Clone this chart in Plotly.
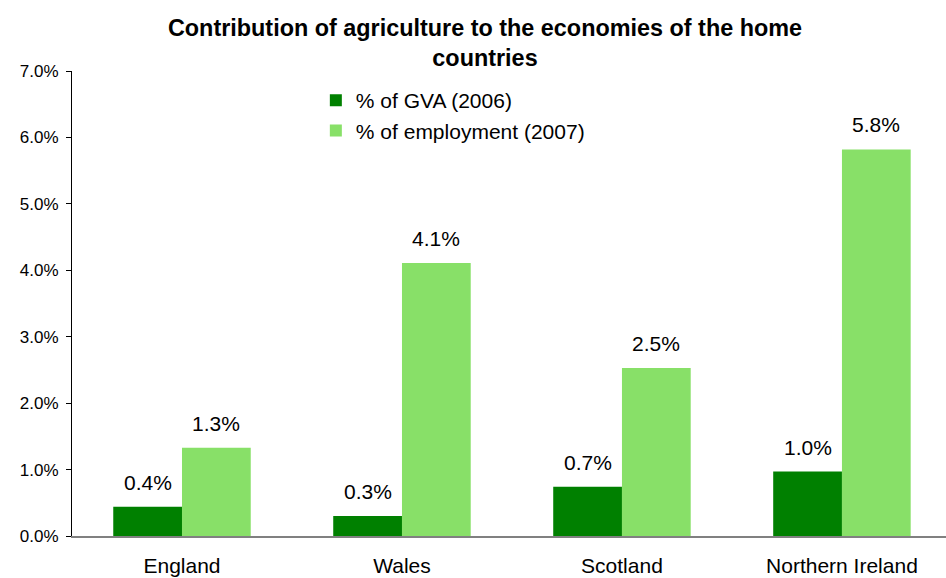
import plotly.graph_objects as go

# Share of agriculture in each home country's economy
countries = ["England", "Wales", "Scotland", "Northern Ireland"]
gva_2006 = [0.0044, 0.0030, 0.0074, 0.0097]          # % of GVA (2006)
employment_2007 = [0.0133, 0.0411, 0.0253, 0.0582]   # % of employment (2007)
series_names = ["% of GVA (2006)", "% of employment (2007)"]
y_ticks = [0, 0.01, 0.02, 0.03, 0.04, 0.05, 0.06, 0.07]

DARK = "#008000"
LIGHT = "#88E068"
FONT = "Liberation Sans, Arial, sans-serif"

fig = go.Figure()
fig.add_trace(go.Bar(name=series_names[0], x=countries, y=gva_2006,
                     marker=dict(color=DARK, line=dict(width=0))))
fig.add_trace(go.Bar(name=series_names[1], x=countries, y=employment_2007,
                     marker=dict(color=LIGHT, line=dict(width=0))))

# value labels above each bar
for values, shift in ((gva_2006, -34), (employment_2007, 34)):
    for c, v in zip(countries, values):
        fig.add_annotation(x=c, y=v, xref="x", yref="y", text=f"{v:.1%}",
                           showarrow=False, xshift=shift, yshift=11,
                           yanchor="bottom", xanchor="center",
                           font=dict(family=FONT, size=21, color="#000000"))

fig.update_layout(
    width=946, height=578,
    margin=dict(l=72, r=0, t=71, b=42),
    paper_bgcolor="white", plot_bgcolor="white",
    barmode="group", bargap=0.375, bargroupgap=0,
    font=dict(family=FONT, color="#000000"),
    title=dict(text="<b>Contribution of agriculture to the economies of the home<br>countries</b>",
               x=485 / 946, xref="container", xanchor="center",
               y=1 - 36 / 578, yref="container", yanchor="top",
               font=dict(family=FONT, size=23.4, color="#000000")),
    legend=dict(x=0.279, y=1 - 9 / 465, xanchor="left", yanchor="top",
                bgcolor="rgba(0,0,0,0)", font=dict(family=FONT, size=21),
                itemwidth=30, traceorder="normal"),
    showlegend=True,
)

# the last category runs slightly past the right edge of the page
fig.update_xaxes(range=[-0.5, 3.473], showline=True, linecolor="#808080", linewidth=2,
                 ticks="", showgrid=False, zeroline=False,
                 tickfont=dict(family=FONT, size=21), ticklabelstandoff=10)
fig.update_yaxes(range=[0, 0.07], tickvals=y_ticks, tickformat=".1%",
                 showline=True, linecolor="#000000", linewidth=1,
                 ticks="outside", ticklen=5, tickcolor="#000000",
                 showgrid=False, zeroline=False,
                 tickfont=dict(family=FONT, size=17), ticklabelstandoff=4)

fig.write_html("out.html")
